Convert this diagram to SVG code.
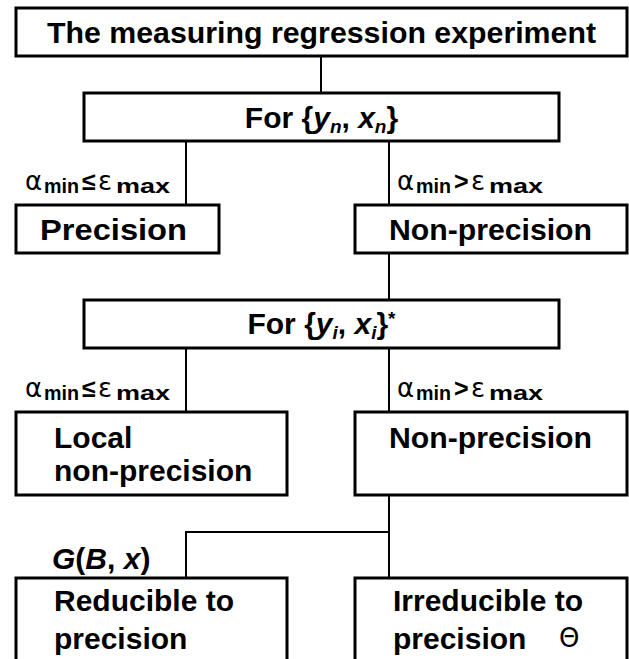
<svg xmlns="http://www.w3.org/2000/svg" width="629" height="659" viewBox="0 0 629 659">
<style>
.box{fill:#fff;stroke:#000;stroke-width:3}
.conn{stroke:#000;stroke-width:2;fill:none}
.t{font-family:"Liberation Sans",Arial,sans-serif;font-weight:bold;font-size:30px;fill:#000}
.sym{font-family:"DejaVu Sans",sans-serif;font-size:26px;fill:#000}
.sub{font-family:"Liberation Sans",Arial,sans-serif;font-weight:bold;font-size:21px;fill:#000}
.op{font-family:"Liberation Sans",Arial,sans-serif;font-size:25px;font-weight:bold;fill:#000}
.it{font-style:italic}
</style>
<rect width="629" height="659" fill="#fff"/>
<g id="connectors">
<line class="conn" x1="321" y1="56" x2="321" y2="93"/>
<line class="conn" x1="186" y1="141" x2="186" y2="205"/>
<line class="conn" x1="389" y1="141" x2="389" y2="205"/>
<line class="conn" x1="389" y1="253" x2="389" y2="300"/>
<line class="conn" x1="186" y1="348" x2="186" y2="412"/>
<line class="conn" x1="389" y1="348" x2="389" y2="412"/>
<polyline class="conn" points="389,495 389,578"/>
<polyline class="conn" points="186,578 186,532 389,532"/>
</g>
<g id="labels">
<text class="sym" x="25" y="190">α</text><text class="sub" x="44" y="193" textLength="35" lengthAdjust="spacingAndGlyphs">min</text><text class="op" x="82" y="190">≤</text><text class="sym" x="98" y="190">ε</text><text class="sub" x="116" y="193" textLength="54" lengthAdjust="spacingAndGlyphs">max</text>
<text class="sym" x="397" y="190">α</text><text class="sub" x="416" y="193" textLength="35" lengthAdjust="spacingAndGlyphs">min</text><text class="op" x="454" y="190">&gt;</text><text class="sym" x="471" y="190">ε</text><text class="sub" x="489" y="193" textLength="54" lengthAdjust="spacingAndGlyphs">max</text>
<text class="sym" x="25" y="397">α</text><text class="sub" x="44" y="400" textLength="35" lengthAdjust="spacingAndGlyphs">min</text><text class="op" x="82" y="397">≤</text><text class="sym" x="98" y="397">ε</text><text class="sub" x="116" y="400" textLength="54" lengthAdjust="spacingAndGlyphs">max</text>
<text class="sym" x="397" y="397">α</text><text class="sub" x="416" y="400" textLength="35" lengthAdjust="spacingAndGlyphs">min</text><text class="op" x="454" y="397">&gt;</text><text class="sym" x="471" y="397">ε</text><text class="sub" x="489" y="400" textLength="54" lengthAdjust="spacingAndGlyphs">max</text>
<text class="t" x="52" y="569"><tspan class="it">G</tspan>(<tspan class="it">B</tspan>, <tspan class="it">x</tspan>)</text>
</g>
<g id="n-title">
<rect class="box" x="16" y="8" width="611" height="48"/>
<text class="t" x="47" y="43" textLength="549" lengthAdjust="spacingAndGlyphs">The measuring regression experiment</text>
</g>
<g id="n-for-n">
<rect class="box" x="84" y="93" width="475" height="48"/>
<text class="t" x="321.5" y="128" text-anchor="middle">For {<tspan class="it">y</tspan><tspan class="it" font-size="19" dy="5">n</tspan><tspan dy="-5">, </tspan><tspan class="it">x</tspan><tspan class="it" font-size="19" dy="5">n</tspan><tspan dy="-5">}</tspan></text>
</g>
<g id="n-precision">
<rect class="box" x="16" y="205" width="203" height="48"/>
<text class="t" x="40" y="240" textLength="147" lengthAdjust="spacingAndGlyphs">Precision</text>
</g>
<g id="n-nonprecision1">
<rect class="box" x="355" y="205" width="272" height="48"/>
<text class="t" x="389" y="240" textLength="203" lengthAdjust="spacingAndGlyphs">Non-precision</text>
</g>
<g id="n-for-i">
<rect class="box" x="84" y="300" width="475" height="48"/>
<text class="t" x="321.5" y="334" text-anchor="middle">For {<tspan class="it">y</tspan><tspan class="it" font-size="19" dy="5">i</tspan><tspan dy="-5">, </tspan><tspan class="it">x</tspan><tspan class="it" font-size="19" dy="5">i</tspan><tspan dy="-5">}</tspan><tspan font-size="19" dy="-9">*</tspan></text>
</g>
<g id="n-local">
<rect class="box" x="16" y="412" width="271" height="83"/>
<text class="t" x="54" y="448">Local</text>
<text class="t" x="54" y="481">non-precision</text>
</g>
<g id="n-nonprecision2">
<rect class="box" x="355" y="412" width="272" height="83"/>
<text class="t" x="389" y="448" textLength="203" lengthAdjust="spacingAndGlyphs">Non-precision</text>
</g>
<g id="n-reducible">
<path class="box" d="M16,665 V578 H287 V665"/>
<text class="t" x="54" y="611">Reducible to</text>
<text class="t" x="54" y="649">precision</text>
</g>
<g id="n-irreducible">
<path class="box" d="M355,665 V578 H627 V665"/>
<text class="t" x="393" y="611">Irreducible to</text>
<text class="t" x="393" y="649">precision</text>
<text x="559" y="647" style="font-family:'DejaVu Sans',sans-serif;font-size:26px">Θ</text>
</g>
</svg>
